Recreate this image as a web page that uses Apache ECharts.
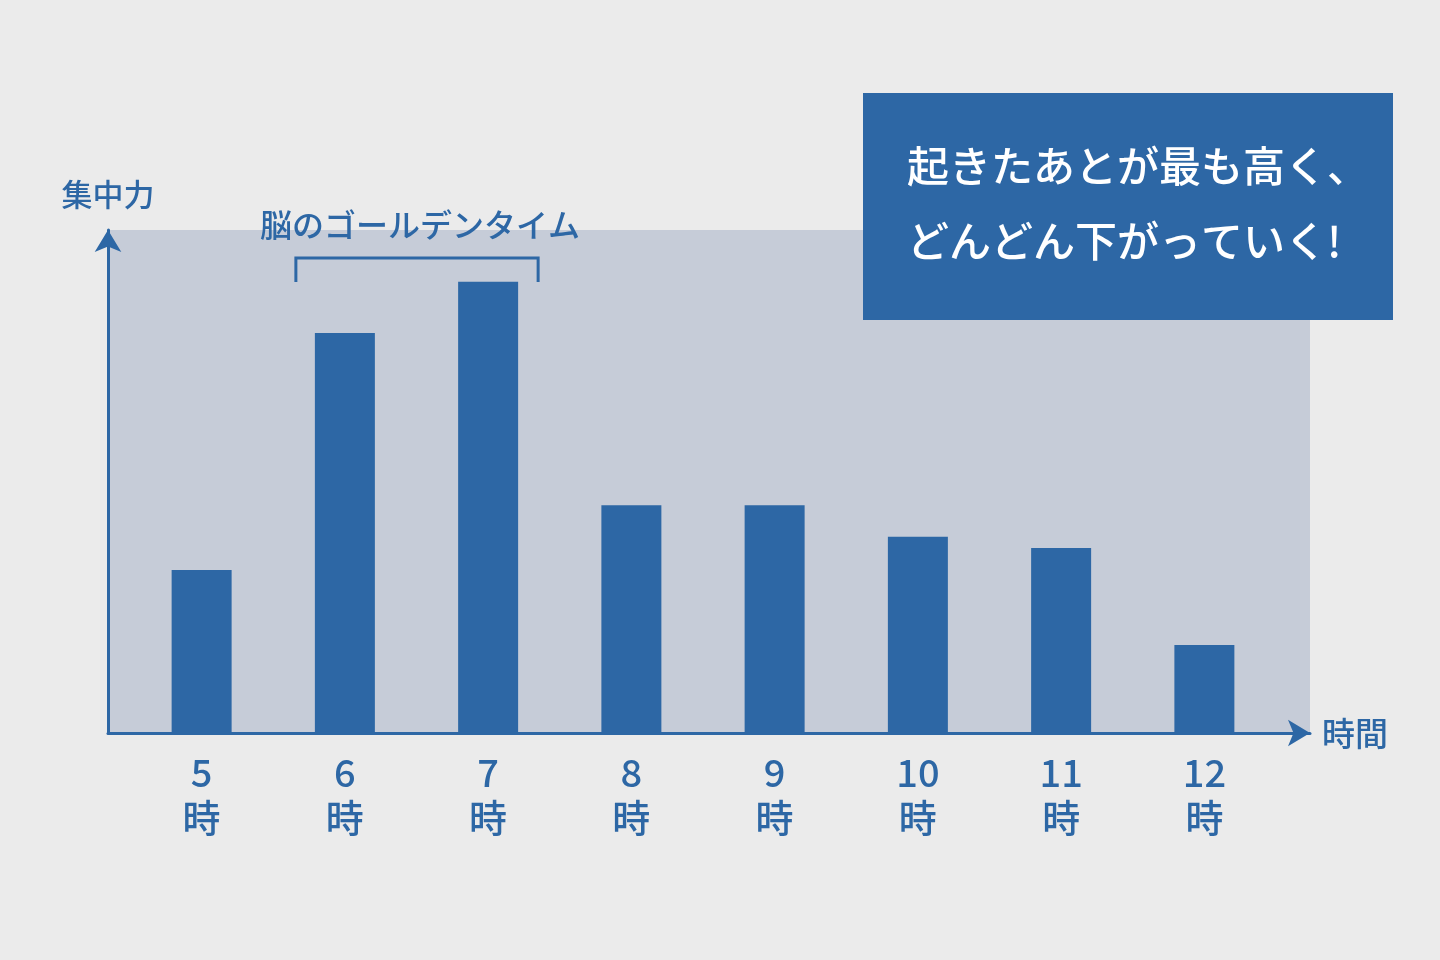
<!DOCTYPE html>
<html>
<head>
<meta charset="utf-8">
<script src="https://cdn.jsdelivr.net/npm/echarts@6/dist/echarts.min.js"></script>
<style>
  html, body { margin: 0; padding: 0; background: #ebebeb; }
  #chart { width: 1440px; height: 960px; }
</style>
</head>
<body>
<div id="chart"></div>
<script>
// データ
var hours = ['5', '6', '7', '8', '9', '10', '11', '12'];
var focus = [32.4, 79.5, 89.7, 45.3, 45.3, 39, 36.8, 17.5];
var goldenRange = [1, 2];  // 脳のゴールデンタイム (6時〜7時)

var blue = '#2d67a5';
var font = '"Noto Sans CJK JP", "Noto Sans", sans-serif';

var myChart = echarts.init(document.getElementById('chart'));

var option = {
    backgroundColor: '#ebebeb',
    textStyle: { fontFamily: font },
    grid: [
        // 棒グラフ用
        { left: 130, right: 164, top: 230, bottom: 227 },
        // 背景と矢印付きの軸
        { left: 108, right: 130, top: 230, bottom: 227, show: true,
          backgroundColor: '#c6ccd8', borderWidth: 0, z: 0 }
    ],
    xAxis: [
        {
            type: 'category',
            gridIndex: 0,
            data: hours,
            axisLine: { show: false },
            axisTick: { show: false },
            axisLabel: {
                color: blue,
                fontSize: 38,
                fontWeight: 500,
                lineHeight: 45,
                margin: 17,
                fontFamily: font,
                formatter: function (v) { return v + '\n時'; }
            }
        },
        {
            type: 'value',
            gridIndex: 1,
            min: 0, max: 1,
            name: '時間',
            nameLocation: 'end',
            nameGap: 12,
            nameTextStyle: { color: blue, fontSize: 33, fontWeight: 500, fontFamily: font },
            axisLine: { show: true, symbol: ['none', 'arrow'], symbolSize: [20, 22],
                        lineStyle: { color: blue, width: 3 } },
            axisTick: { show: false },
            axisLabel: { show: false },
            splitLine: { show: false }
        }
    ],
    yAxis: [
        {
            type: 'value',
            gridIndex: 0,
            min: 0, max: 100,
            show: false
        },
        {
            type: 'value',
            gridIndex: 1,
            min: 0, max: 1,
            name: '集中力',
            nameLocation: 'end',
            nameGap: 20,
            nameTextStyle: { color: blue, fontSize: 31, fontWeight: 500, fontFamily: font, align: 'center' },
            axisLine: { show: true, symbol: ['none', 'arrow'], symbolSize: [20, 22],
                        lineStyle: { color: blue, width: 3 } },
            axisTick: { show: false },
            axisLabel: { show: false },
            splitLine: { show: false }
        }
    ],
    series: [
        {
            type: 'bar',
            xAxisIndex: 0,
            yAxisIndex: 0,
            data: focus,
            barWidth: 60,
            itemStyle: { color: blue },
            z: 3
        }
    ]
};

myChart.setOption(option);

// 吹き出しとブラケット（6時・7時の棒の位置から）
var p0 = myChart.convertToPixel({ xAxisIndex: 0, yAxisIndex: 0 }, [goldenRange[0], 0]);
var p1 = myChart.convertToPixel({ xAxisIndex: 0, yAxisIndex: 0 }, [goldenRange[1], 0]);
var bx0 = p0[0] - 49, bx1 = p1[0] + 50;
myChart.setOption({
    graphic: [
        {
            id: 'noteBox',
            type: 'rect',
            x: 863, y: 93,
            shape: { width: 530, height: 227 },
            style: { fill: blue },
            z: 10
        },
        {
            id: 'noteText',
            type: 'text',
            x: 907, y: 129,
            style: {
                text: '起きたあとが最も高く、\nどんどん下がっていく!',
                fill: '#ffffff',
                font: '500 42px ' + font,
                lineHeight: 75
            },
            z: 11
        },
        {
            id: 'bracket',
            type: 'polyline',
            shape: { points: [[bx0, 282], [bx0, 258], [bx1, 258], [bx1, 282]] },
            style: { stroke: blue, lineWidth: 3, fill: null },
            z: 5
        },
        {
            id: 'bracketLabel',
            type: 'text',
            x: (bx0 + bx1) / 2 + 3, y: 225,
            style: {
                text: '脳のゴールデンタイム',
                fill: blue,
                font: '500 32px ' + font,
                align: 'center',
                verticalAlign: 'middle'
            },
            z: 5
        }
    ]
});
</script>
</body>
</html>
